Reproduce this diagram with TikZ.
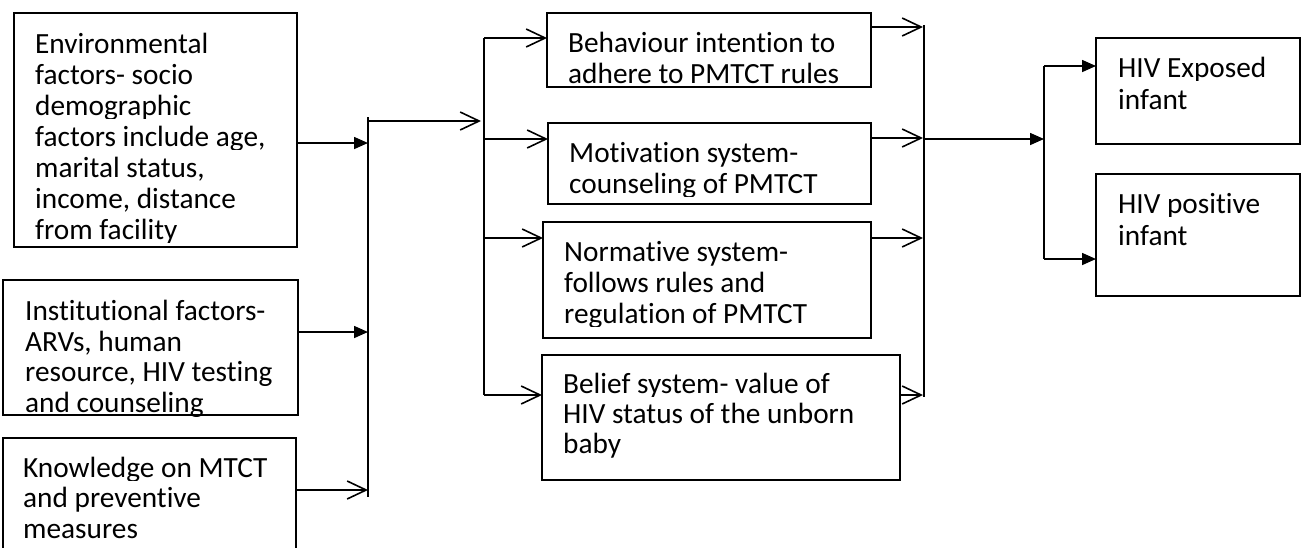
\documentclass[tikz,border=0pt]{standalone}
\usepackage{fontspec}
\setmainfont{Carlito}[Ligatures={NoCommon,NoRequired,NoContextual},Contextuals=NoAlternate]
\usetikzlibrary{arrows.meta}
\newcommand\cliptextline[4]{%
  \begin{scope}
    \clip (#2-6,#3-25) rectangle (#2+440,#3+3.5);
    \node[txt] (#1) at (#2,#3) {#4};
  \end{scope}}
\tikzset{
  box/.style={draw, line width=1.6pt, inner sep=0pt, outer sep=0pt, anchor=north west},
  thinbox/.style={box, line width=1.1pt},
  txt/.style={font=\fontsize{29.3pt}{31pt}\selectfont, inner sep=0pt, anchor=base west},
  bus/.style={line width=1.6pt},
  openarr/.style={line width=1.6pt, -{Straight Barb[length=19pt,width=18pt,line width=1.6pt]}},
  fillarr/.style={line width=1.6pt, -{Triangle[length=14pt,width=12pt]}}
}
\begin{document}
\begin{tikzpicture}[x=1pt,y=-1pt]
\useasboundingbox (0,0) rectangle (1301,547);

% boxes
\node[box, minimum width=283pt, minimum height=234pt] (E) at (14,13) {};
\node[box, minimum width=295pt, minimum height=135pt] (I) at (3,280) {};
\node[thinbox, minimum width=293pt, minimum height=115pt] (K) at (3,438) {};
\node[box, minimum width=324pt, minimum height=74pt] (B1) at (547,13) {};
\node[thinbox, minimum width=323pt, minimum height=81pt] (B2) at (548,123) {};
\node[thinbox, minimum width=328pt, minimum height=116pt] (B3) at (543,222) {};
\node[thinbox, minimum width=358pt, minimum height=125pt] (B4) at (542,355) {};
\node[box, minimum width=204pt, minimum height=106pt] (HE) at (1096,38) {};
\node[box, minimum width=204pt, minimum height=122pt] (HP) at (1096,174) {};

% texts
\cliptextline{E1}{35}{53}{Environmental}
\cliptextline{E2}{35}{84}{factors- socio}
\cliptextline{E3}{35}{115}{demographic}
\cliptextline{E4}{35}{146}{factors include age,}
\cliptextline{E5}{35}{177}{marital status,}
\cliptextline{E6}{35}{208}{income, distance}
\cliptextline{E7}{35}{239}{from facility}

\cliptextline{I1}{25}{320}{Institutional factors-}
\cliptextline{I2}{25}{351}{ARVs, human}
\cliptextline{I3}{25}{381.5}{resource, HIV testing}
\cliptextline{I4}{25}{412.5}{and counseling}

\cliptextline{K1}{23}{477}{Knowledge on MTCT}
\cliptextline{K2}{23}{507.5}{and preventive}
\cliptextline{K3}{23}{538}{measures}

\cliptextline{B1a}{568}{52.3}{Behaviour intention to}
\cliptextline{B1b}{568}{83.3}{adhere to PMTCT rules}

\cliptextline{B2a}{569}{162.7}{Motivation system-}
\cliptextline{B2b}{569}{193.3}{counseling of PMTCT}

\cliptextline{B3a}{564}{261.7}{Normative system-}
\cliptextline{B3b}{564}{292.7}{follows rules and}
\cliptextline{B3c}{564}{323.3}{regulation of PMTCT}

\cliptextline{B4a}{563}{393.3}{Belief system- value of}
\cliptextline{B4b}{563}{423.5}{HIV status of the unborn}
\cliptextline{B4c}{563}{453.5}{baby}

\cliptextline{HEa}{1118}{77.3}{HIV Exposed}
\cliptextline{HEb}{1118}{109}{infant}
\cliptextline{HPa}{1118}{213.3}{HIV positive}
\cliptextline{HPb}{1118}{245.7}{infant}

% bus coordinates
\coordinate (b1top) at (368,117);
\coordinate (b1bot) at (368,497);
\coordinate (b1E) at (368,143);
\coordinate (b1I) at (368,332);
\coordinate (b1K) at (368,490);
\coordinate (b1out) at (368,121);
\coordinate (b2in) at (481,121);

\coordinate (b2top) at (484,38);
\coordinate (b2bot) at (484,395);
\coordinate (b2a) at (484,38);
\coordinate (b2b) at (484,139);
\coordinate (b2c) at (484,238);
\coordinate (b2d) at (484,395);

\coordinate (b3top) at (924,25);
\coordinate (b3bot) at (924,397);
\coordinate (b3a) at (923,27);
\coordinate (b3b) at (923,138);
\coordinate (b3c) at (923,238);
\coordinate (b3d) at (923,395);
\coordinate (b3out) at (924,139);

\coordinate (b4top) at (1044,66);
\coordinate (b4bot) at (1044,259);
\coordinate (b4in) at (1044,139);

% buses
\draw[bus] (b1top) -- (b1bot);
\draw[bus] (b2top) -- (b2bot);
\draw[bus] (b3top) -- (b3bot);
\draw[bus] (b4top) -- (b4bot);

% left inputs
\draw[fillarr] (E.east |- b1E) -- (b1E);
\draw[fillarr] (I.east |- b1I) -- (b1I);
\draw[openarr] (K.east |- b1K) -- (b1K);
\draw[openarr] (b1out) -- (b2in);

% to middle boxes
\draw[openarr] (b2a) -- (B1.west |- b2a);
\draw[openarr] (b2b) -- (B2.west |- b2b);
\draw[openarr] (b2c) -- (B3.west |- b2c);
\draw[openarr] (b2d) -- (B4.west |- b2d);

% from middle boxes
\draw[openarr] (B1.east |- b3a) -- (b3a);
\draw[openarr] (B2.east |- b3b) -- (b3b);
\draw[openarr] (B3.east |- b3c) -- (b3c);
\draw[openarr] (B4.east |- b3d) -- (b3d);

% to outcomes
\draw[fillarr] (b3out) -- (b4in);
\draw[fillarr] (b4top) -- (HE.west |- b4top);
\draw[fillarr] (b4bot) -- (HP.west |- b4bot);
\end{tikzpicture}
\end{document}
